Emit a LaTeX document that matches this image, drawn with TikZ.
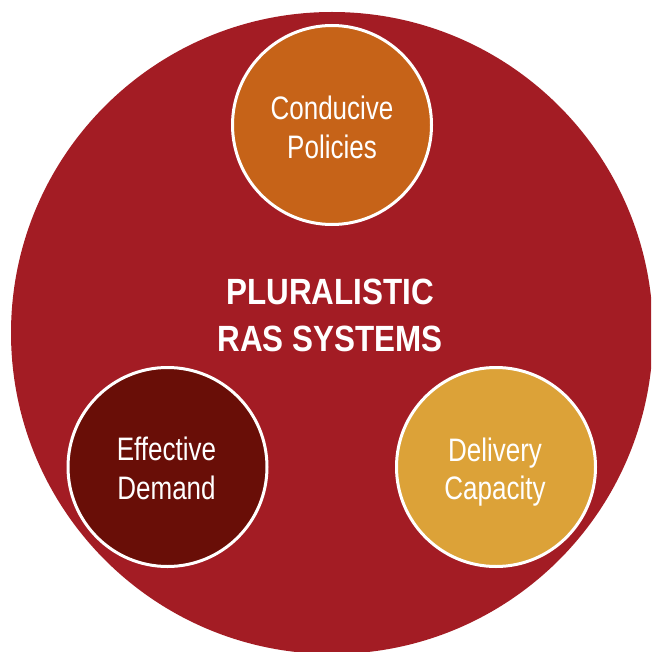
\documentclass[tikz,border=0pt]{standalone}
\usepackage{fontspec}
\setmainfont{Liberation Sans}[FakeStretch=0.8]
\newfontfamily\headfont{Liberation Sans}[FakeStretch=0.86]
\definecolor{rasred}{HTML}{A31C24}
\definecolor{policyorange}{HTML}{C66318}
\definecolor{demandbrown}{HTML}{690E07}
\definecolor{capacitygold}{HTML}{DCA238}
\tikzset{
  outer/.style={circle, fill=rasred, inner sep=0pt, minimum size=642pt},
  pillar/.style={circle, draw=white, line width=3pt, inner sep=0pt, minimum size=199pt},
  pillartext/.style={text=white, anchor=base, inner sep=0pt, font=\fontsize{32.5}{39}\selectfont},
  headtext/.style={text=white, anchor=base, inner sep=0pt, font=\headfont\bfseries\fontsize{36.5}{47}\selectfont},
}
\begin{document}
\begin{tikzpicture}[x=1pt, y=-1pt]
  \useasboundingbox (0,0) rectangle (651,652);
  \clip (0,0) rectangle (651,652);
  % enclosing system circle
  \node[outer] (sys) at (332,333) {};
  % the three pillars
  \node[pillar, fill=policyorange] (pol) at (332,125) {};
  \node[pillar, fill=demandbrown] (dem) at (167.5,467) {};
  \node[pillar, fill=capacitygold] (cap) at (496,467) {};
  % labels
  \node[headtext] (h1) at (330,304) {PLURALISTIC};
  \node[headtext] (h2) at (330,351) {RAS SYSTEMS};
  \node[pillartext] (pol1) at (332,119.3) {Conducive};
  \node[pillartext] (pol2) at (332,158.3) {Policies};
  \node[pillartext] (dem1) at (166.5,460) {Effective};
  \node[pillartext] (dem2) at (166.5,499) {Demand};
  \node[pillartext] (cap1) at (495,461) {Delivery};
  \node[pillartext] (cap2) at (495,499.5) {Capacity};
\end{tikzpicture}
\end{document}
